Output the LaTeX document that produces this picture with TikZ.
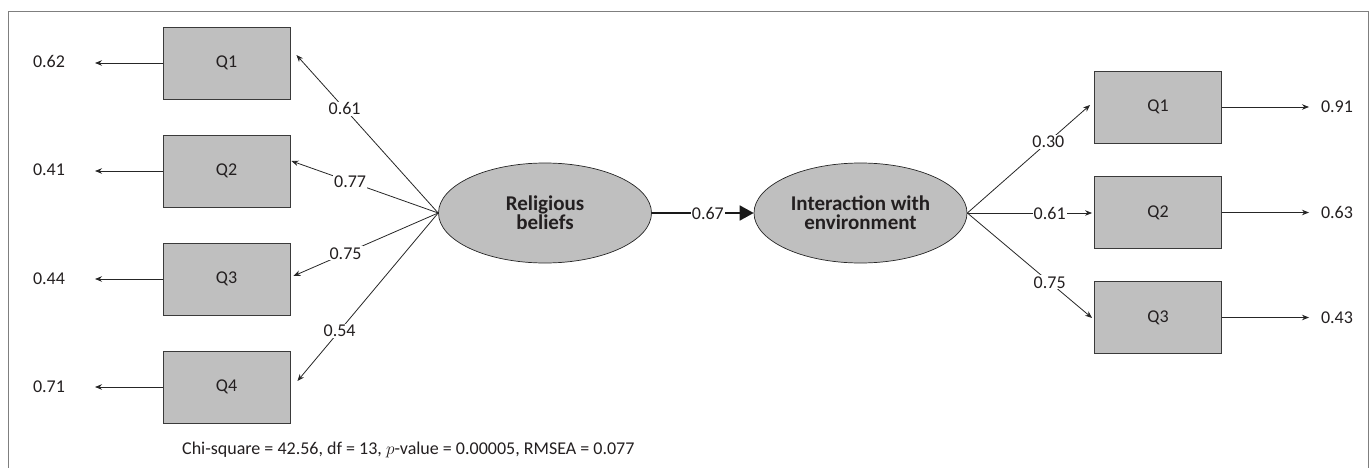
\documentclass[tikz,border=0pt]{standalone}
\usepackage{fontspec}
\setmainfont{Carlito}
\usetikzlibrary{arrows.meta,shapes.geometric}
\definecolor{boxfill}{HTML}{BFBFBF}
\definecolor{boxline}{HTML}{3A3A3A}
\definecolor{framec}{HTML}{7F7F7F}
\definecolor{txt}{HTML}{231F20}
\begin{document}
\begin{tikzpicture}[x=1pt,y=-1pt,
  box/.style={draw=boxline, fill=boxfill, line width=0.9pt, minimum width=127pt, minimum height=72pt, inner sep=0pt, text=txt, font=\fontsize{18}{20}\selectfont},
  lat/.style={ellipse, draw=black!85, fill=boxfill, line width=0.7pt, minimum width=213pt, minimum height=100pt, inner sep=0pt, align=center, text=txt, font=\fontsize{21}{19}\selectfont\bfseries},
  val/.style={font=\fontsize{18}{20}\selectfont, inner sep=1pt, text=txt},
  lab/.style={val, fill=white, inner sep=1pt},
  load/.style={draw=black!85, line width=0.8pt, -{Stealth[length=7pt,width=5.5pt]}},
  err/.style={draw=black!85, line width=0.8pt, -{Stealth[length=7pt,width=5.5pt]}},
  mid/.style={draw=black!90, line width=1.8pt, -{Triangle[length=14pt,width=15pt]}},
]
\useasboundingbox (0,0) rectangle (1372,468);
\draw[framec, line width=0.8pt] (8,11) rectangle (1368,480);

% latent variables
\node[lat] (RB) at (545,213) {Religious\\beliefs};
\node[lat] (IE) at (860.5,213) {Interaction with\\environment};

% left indicators
\node[box] (L1) at (226.5,63) {Q1};
\node[box] (L2) at (226.5,171) {Q2};
\node[box] (L3) at (226.5,279) {Q3};
\node[box] (L4) at (226.5,387) {Q4};

% right indicators
\node[box] (R1) at (1158,107) {Q1};
\node[box] (R2) at (1158,212.5) {Q2};
\node[box] (R3) at (1158,317.5) {Q3};

% left error values
\node[val] (e1) at (49,61) {0.62};
\node[val] (e2) at (49,170) {0.41};
\node[val] (e3) at (49,279) {0.44};
\node[val] (e4) at (49,387) {0.71};
\coordinate (t1) at (95,63);
\coordinate (t2) at (95,171);
\coordinate (t3) at (95,279);
\coordinate (t4) at (95,387);
\draw[err] (L1.west) -- (t1);
\draw[err] (L2.west) -- (t2);
\draw[err] (L3.west) -- (t3);
\draw[err] (L4.west) -- (t4);

% right error values
\node[val] (f1) at (1337,107) {0.91};
\node[val] (f2) at (1337,212.5) {0.63};
\node[val] (f3) at (1337,317.5) {0.43};
\coordinate (u1) at (1309,107);
\coordinate (u2) at (1309,212.5);
\coordinate (u3) at (1309,317.5);
\draw[err] (R1.east) -- (u1);
\draw[err] (R2.east) -- (u2);
\draw[err] (R3.east) -- (u3);

% left loadings
\draw[load] (RB.west) -- node[lab,pos=0.66]{0.61} ([shift={(6,-8)}]L1.east);
\draw[load] (RB.west) -- node[lab,pos=0.60]{0.77} ([shift={(1,-10)}]L2.east);
\draw[load] (RB.west) -- node[lab,pos=0.64]{0.75} ([shift={(3,-3)}]L3.east);
\draw[load] (RB.west) -- node[lab,pos=0.70]{0.54} ([shift={(7,-6)}]L4.east);

% right loadings
\draw[load] (IE.east) -- node[lab,pos=0.66]{0.30} ([shift={(-4,-2)}]R1.west);
\draw[load] (IE.east) -- node[lab,pos=0.66]{0.61} ([shift={(-2,0.5)}]R2.west);
\draw[load] (IE.east) -- node[lab,pos=0.66]{0.75} ([shift={(-2,0.5)}]R3.west);

% structural path
\draw[mid] (RB.east) -- node[lab,pos=0.55]{0.67} (IE.west);

% fit statistics
\node[val, anchor=west] (chi) at (181,450) {Chi-square = 42.56, df = 13, $p$-value = 0.00005, RMSEA = 0.077};
\end{tikzpicture}
\end{document}
